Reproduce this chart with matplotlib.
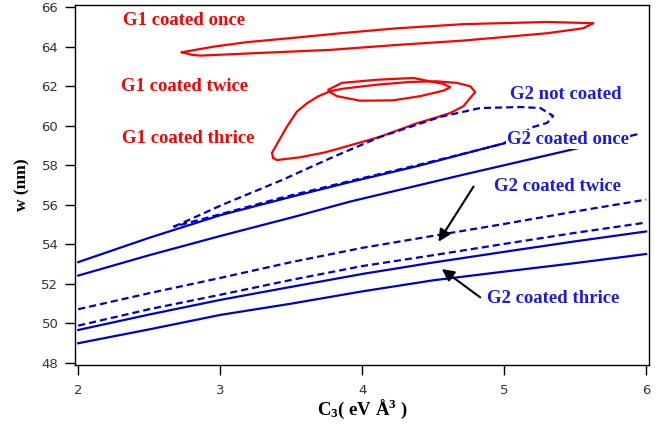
import matplotlib
matplotlib.use('Agg')
import matplotlib.pyplot as plt

plt.rcParams['mathtext.fontset'] = 'custom'
plt.rcParams['mathtext.rm'] = 'Liberation Serif:bold'
plt.rcParams['mathtext.it'] = 'Liberation Serif:bold'
plt.rcParams['mathtext.bf'] = 'Liberation Serif:bold'

# G2 curves (blue), x = C3 (eV A^3), y = w (nm)
s1_x = [2.0, 2.5, 3.0, 3.5, 3.915, 4.387, 4.951, 5.3]
s1_y = [53.1, 54.33, 55.47, 56.4, 57.15, 57.95, 59.02, 59.6]

s2_x = [2.0, 2.5, 3.0, 3.5, 3.915, 4.7, 5.465, 5.93]
s2_y = [52.42, 53.45, 54.42, 55.35, 56.16, 57.5, 58.77, 59.55]

d1_x = [2.0, 2.5, 3.0, 3.5, 4.0, 4.5, 5.0, 5.5, 6.0]
d1_y = [50.72, 51.53, 52.3, 53.1, 53.82, 54.43, 55.03, 55.66, 56.26]

d2_x = [2.0, 2.5, 3.0, 3.5, 4.0, 4.5, 5.0, 5.5, 6.0]
d2_y = [49.89, 50.72, 51.45, 52.2, 52.9, 53.45, 54.02, 54.58, 55.1]

s3_x = [2.0, 2.5, 3.0, 3.5, 4.0, 4.5, 5.0, 5.5, 6.0]
s3_y = [49.67, 50.45, 51.19, 51.85, 52.5, 53.08, 53.62, 54.15, 54.65]

s4_x = [2.0, 2.5, 3.0, 3.5, 4.0, 4.5, 5.0, 5.5, 6.0]
s4_y = [49.0, 49.7, 50.43, 51.0, 51.62, 52.18, 52.62, 53.05, 53.51]

# G2 not coated: closed dashed loop
d0_x = [2.671, 2.754, 3.012, 3.435, 3.796, 4.127, 4.549, 4.831, 5.113, 5.254,
        5.345, 5.303, 5.204, 5.1, 4.986, 4.387, 3.915, 3.423, 3.0, 2.85, 2.671]
d0_y = [54.89, 55.15, 55.99, 57.25, 58.42, 59.43, 60.44, 60.89, 60.94, 60.89,
        60.49, 60.14, 59.93, 59.5, 59.07, 58.0, 57.2, 56.34, 55.52, 55.23, 54.89]

# G1 curves (red), closed loops
r1_x = [2.73, 2.951, 3.188, 3.563, 3.845, 4.244, 4.711, 5.301, 5.629,
        5.556, 5.301, 4.713, 4.244, 3.775, 3.329, 2.859, 2.8, 2.73]
r1_y = [63.71, 63.99, 64.22, 64.47, 64.67, 64.92, 65.13, 65.24, 65.18,
        64.92, 64.67, 64.3, 64.08, 63.83, 63.69, 63.54, 63.58, 63.71]

r2_x = [3.763, 3.857, 4.104, 4.361, 4.456, 4.573, 4.62, 4.573, 4.408,
        4.22, 3.986, 3.822, 3.763]
r2_y = [61.82, 62.16, 62.32, 62.41, 62.27, 62.11, 61.94, 61.77, 61.49,
        61.28, 61.26, 61.49, 61.74]

r3_x = [3.373, 3.364, 3.47, 3.54, 3.611, 3.69, 3.775, 3.866, 4.104, 4.338,
        4.526, 4.667, 4.761, 4.796, 4.761, 4.713, 4.62, 4.526, 4.385, 4.127,
        3.845, 3.727, 3.563, 3.399, 3.373]
r3_y = [58.37, 58.62, 59.95, 60.71, 61.13, 61.48, 61.74, 61.87, 62.07, 62.21,
        62.24, 62.16, 61.99, 61.7, 61.4, 60.98, 60.64, 60.42, 60.12, 59.44,
        58.86, 58.63, 58.4, 58.26, 58.37]

blue = '#0000cc'
red = '#ff0000'
lw = 1.6
dash = (3.2, 1.8)

fig = plt.figure(figsize=(6.69, 4.24), dpi=100)
ax = fig.add_axes([0.1121, 0.1392, 0.858, 0.85])

ax.plot(r1_x, r1_y, color=red, lw=lw)
ax.plot(r2_x, r2_y, color=red, lw=lw)
ax.plot(r3_x, r3_y, color=red, lw=lw)

ax.plot(s1_x, s1_y, color=blue, lw=lw)
ax.plot(s2_x, s2_y, color=blue, lw=lw)
ax.plot(s3_x, s3_y, color=blue, lw=lw)
ax.plot(s4_x, s4_y, color=blue, lw=lw)
ax.plot(d0_x, d0_y, color=blue, lw=lw, dashes=dash)
ax.plot(d1_x, d1_y, color=blue, lw=lw, dashes=dash)
ax.plot(d2_x, d2_y, color=blue, lw=lw, dashes=dash)

lab = dict(family='Liberation Serif', weight='bold', fontsize=13.5, va='center',
           ha='left', zorder=5)
box = dict(facecolor='white', edgecolor='none', pad=0.5)
ax.text(2.315, 65.31, 'G1 coated once', color=red, **lab)
ax.text(2.303, 61.97, 'G1 coated twice', color=red, **lab)
ax.text(2.308, 59.36, 'G1 coated thrice', color=red, **lab)
lblue = '#1a1aee'
ax.text(5.038, 61.55, 'G2 not coated', color=lblue, bbox=box, **lab)
ax.text(5.019, 59.31, 'G2 coated once', color=lblue, bbox=box, **lab)
ax.text(4.925, 56.92, 'G2 coated twice', color=lblue, bbox=box, **lab)
ax.text(4.878, 51.27, 'G2 coated thrice', color=lblue, bbox=box, **lab)

arrow = dict(arrowstyle='-|>', color='black', lw=1.5, mutation_scale=18,
             shrinkA=0, shrinkB=0)
ax.annotate('', xy=(4.537, 54.13), xytext=(4.784, 56.92), arrowprops=arrow)
ax.annotate('', xy=(4.561, 52.75), xytext=(4.831, 51.32), arrowprops=arrow)

ax.set_xlim(1.977, 6.02)
ax.set_ylim(47.9, 66.12)
ax.set_xticks([2, 3, 4, 5, 6])
ax.set_yticks(range(48, 67, 2))
ax.tick_params(direction='out', length=7, width=1, colors='black',
               labelcolor='#333333', labelsize=9.5, top=False, right=False)
ax.tick_params(axis='x', pad=7)
ax.tick_params(axis='y', pad=5)
for sp in ax.spines.values():
    sp.set_linewidth(1.0)

ax.set_ylabel('w (nm)', family='Liberation Serif', weight='bold', fontsize=12.5,
              labelpad=8)
ax.set_xlabel('C$_3$( eV Å$^3$ )', family='Liberation Serif', weight='bold',
              fontsize=13.5, labelpad=0)

fig.savefig('out.png', dpi=100)
